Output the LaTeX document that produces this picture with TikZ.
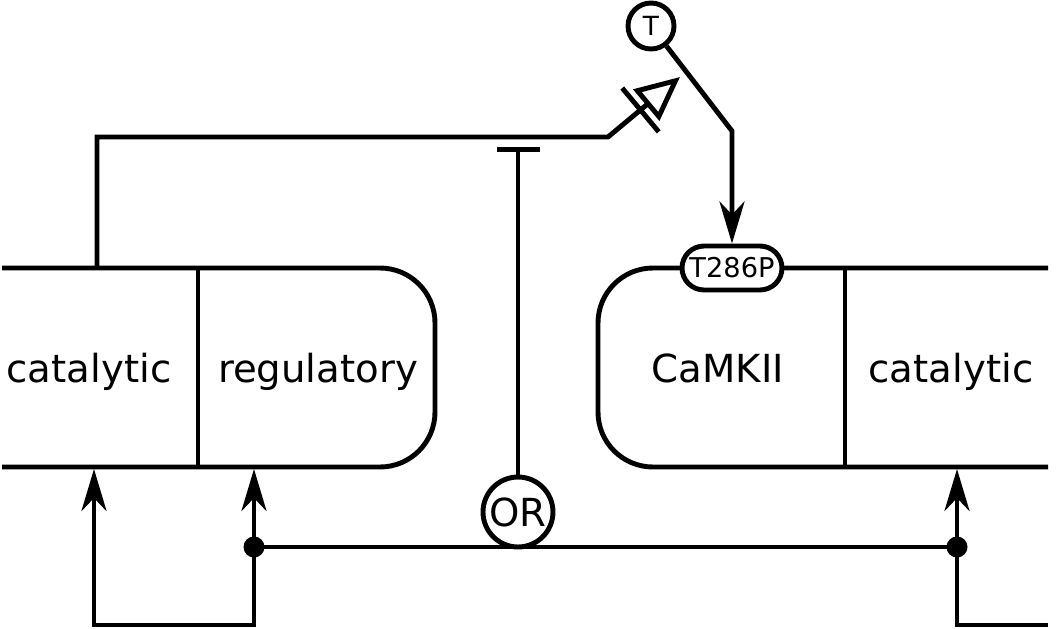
\documentclass[tikz,border=0pt]{standalone}
\usepackage{fontspec}
\setmainfont{DejaVu Sans}
\usetikzlibrary{arrows.meta,positioning}
\begin{document}
\begin{tikzpicture}[
  x=0.02cm, y=-0.02cm,
  line width=2.8pt,
  every node/.style={inner sep=0pt, font=\fontsize{22}{26}\selectfont},
  label/.style={anchor=base},
  gate/.style={draw, circle, fill=white, minimum size=1.4cm},
  site/.style={draw, fill=white, rounded corners=0.44cm, minimum width=2cm, minimum height=0.88cm, font=\fontsize{15.5}{18}\selectfont},
  res/.style={draw, circle, fill=white, minimum size=0.92cm, font=\fontsize{15}{17}\selectfont},
  dot/.style={circle, fill, minimum size=0.42cm},
  arrow/.style={-{Stealth[length=0.84cm, width=0.5cm, inset=0.26cm]}},
  twoarrow/.style={{Stealth[length=0.84cm, width=0.5cm, inset=0.26cm]}-{Stealth[length=0.84cm, width=0.5cm, inset=0.26cm]}},
  inhibit/.style={-{Bar[width=0.86cm]}},
  necessary/.style={-{Bar[width=1.14cm, sep=0.1cm]Triangle[open, length=0.88cm, width=0.8cm]}}
]
\useasboundingbox (0,0) rectangle (1059,629);
\draw[rounded corners=1.1cm] (2,268) -- (435,268) -- (435,467) -- (2,467);
\draw (198,268) -- (198,467);
\draw[rounded corners=1.1cm] (1048,268) -- (598,268) -- (598,467) -- (1048,467);
\draw (845,268) -- (845,467);
\node[label] (catl) at (89,382) {catalytic};
\node[label] (reg) at (318,382) {regulatory};
\node[label] (cam) at (718,382) {CaMKII};
\node[label] (catr) at (951,382) {catalytic};
\node[site] (p) at (732,268) {T286P};
\node[res] (t) at (651,26) {T};
\node[gate] (or) at (518,512) {OR};
\node[dot] (dl) at (254,547) {};
\node[dot] (dr) at (957,547) {};
\coordinate (tc) at (732,131);
\coordinate (ns) at (97,268);
\coordinate (nb) at (608,137);
\coordinate (ne) at (680,77);
\coordinate (ie) at (518,147);
\coordinate (lcat) at (94,469);
\coordinate (lreg) at (254,469);
\coordinate (rcat) at (957,469);
\coordinate (lb) at (254,625);
\coordinate (rb) at (957,625);
\coordinate (re) at (1048,625);
\draw[arrow] (t) -- (tc) -- (p);
\draw[necessary] (ns) |- (nb) -- (ne);
\draw[inhibit] (or) -- (ie);
\draw (dl.center) -- (dl.center -| or) -- (dr.center);
\draw[twoarrow] (lcat) |- (lb) -- (lreg);
\draw[arrow] (re) -- (rb) -- (rcat);
\end{tikzpicture}
\end{document}
